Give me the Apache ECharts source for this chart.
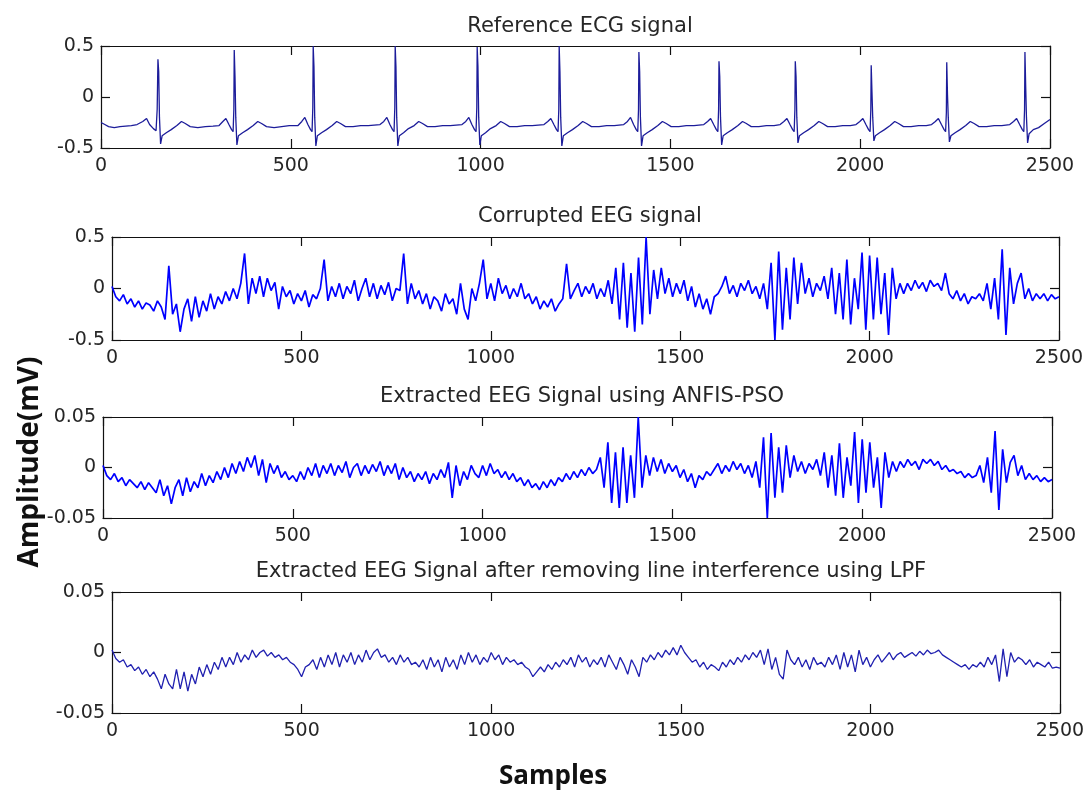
<!DOCTYPE html>
<html><head><meta charset="utf-8">
<script src="https://cdn.jsdelivr.net/npm/echarts@6/dist/echarts.min.js"></script>
<style>html,body{margin:0;padding:0;background:#fff}#c{width:1089px;height:798px}</style>
</head><body><div id="c"></div>
<script>
// ---------------- DATA ----------------
const panelTitles = [
  'Reference ECG signal',
  'Corrupted EEG signal',
  'Extracted EEG Signal using ANFIS-PSO',
  'Extracted EEG Signal after removing line interference using LPF'
];
const yLabel = 'Amplitude(mV)';
const xLabel = 'Samples';
const xRange = [0, 2500];
const xTickStep = 500;
const yRanges = [[-0.5, 0.5], [-0.5, 0.5], [-0.05, 0.05], [-0.05, 0.05]];
const yTickSteps = [0.5, 0.5, 0.05, 0.05];

// Reference ECG: [sample, mV]
const ecgSignal = [
 [0,-0.25],[10,-0.27],[20,-0.29],[35,-0.3],[50,-0.29],[65,-0.285],[80,-0.28],[95,-0.27],[110,-0.24],[120,-0.21],[128,-0.27],[138,-0.31],[145,-0.33],[148,-0.12],[150,0.37],[152,0.25],[154,-0.2],[157,-0.46],[161,-0.38],[172,-0.35],[185,-0.32],[200,-0.28],[212,-0.24],[222,-0.26],[235,-0.29],[255,-0.3],[275,-0.29],[295,-0.285],
 [311,-0.28],[321,-0.24],[329,-0.21],[337,-0.27],[344,-0.32],[348,-0.34],[350,-0.12],[351,0.46],[353,0.2],[355,-0.2],[358,-0.47],[362,-0.38],[373,-0.35],[386,-0.32],[401,-0.28],[413,-0.24],[423,-0.26],[436,-0.29],[456,-0.3],[476,-0.29],[496,-0.28],
 [519,-0.28],[529,-0.24],[537,-0.2],[545,-0.27],[552,-0.32],[556,-0.34],[558,-0.1],[559,0.5],[561,0.3],[563,-0.2],[566,-0.48],[570,-0.38],[581,-0.35],[594,-0.32],[609,-0.28],[621,-0.24],[631,-0.26],[644,-0.29],[664,-0.29],[684,-0.28],[704,-0.28],
 [735,-0.27],[745,-0.24],[753,-0.2],[761,-0.27],[768,-0.32],[772,-0.34],[774,-0.1],[775,0.5],[777,0.3],[779,-0.2],[782,-0.48],[786,-0.38],[797,-0.35],[810,-0.31],[825,-0.28],[837,-0.24],[847,-0.26],[860,-0.29],[880,-0.29],[900,-0.28],[920,-0.28],
 [951,-0.27],[961,-0.24],[969,-0.2],[977,-0.27],[984,-0.32],[988,-0.34],[990,-0.1],[991,0.49],[993,0.3],[995,-0.2],[998,-0.47],[1002,-0.38],[1013,-0.35],[1026,-0.31],[1041,-0.28],[1053,-0.24],[1063,-0.26],[1076,-0.29],[1096,-0.29],[1116,-0.28],[1136,-0.28],
 [1167,-0.27],[1177,-0.24],[1185,-0.21],[1193,-0.27],[1200,-0.32],[1204,-0.34],[1206,-0.12],[1207,0.5],[1209,0.25],[1211,-0.2],[1214,-0.48],[1218,-0.38],[1229,-0.35],[1242,-0.32],[1257,-0.28],[1269,-0.24],[1279,-0.26],[1292,-0.29],[1312,-0.29],[1332,-0.28],[1352,-0.28],
 [1377,-0.27],[1387,-0.24],[1395,-0.2],[1403,-0.27],[1410,-0.32],[1414,-0.34],[1416,-0.12],[1417,0.44],[1419,0.25],[1421,-0.2],[1424,-0.48],[1428,-0.38],[1439,-0.35],[1452,-0.32],[1467,-0.28],[1479,-0.24],[1489,-0.26],[1502,-0.29],[1522,-0.29],[1542,-0.28],[1562,-0.28],
 [1588,-0.27],[1598,-0.24],[1606,-0.21],[1614,-0.27],[1621,-0.32],[1625,-0.34],[1627,-0.12],[1628,0.35],[1630,0.2],[1632,-0.2],[1635,-0.47],[1639,-0.38],[1650,-0.35],[1663,-0.32],[1678,-0.28],[1690,-0.24],[1700,-0.26],[1713,-0.29],[1733,-0.29],[1753,-0.28],[1773,-0.28],
 [1789,-0.27],[1799,-0.24],[1807,-0.21],[1815,-0.27],[1822,-0.32],[1826,-0.34],[1828,-0.12],[1829,0.35],[1831,0.2],[1833,-0.2],[1836,-0.45],[1840,-0.38],[1851,-0.35],[1864,-0.32],[1879,-0.28],[1891,-0.24],[1901,-0.26],[1914,-0.29],[1934,-0.29],[1954,-0.28],[1974,-0.28],
 [1989,-0.27],[1999,-0.24],[2007,-0.21],[2015,-0.27],[2022,-0.32],[2026,-0.34],[2028,-0.12],[2029,0.31],[2031,0.05],[2033,-0.2],[2036,-0.43],[2040,-0.38],[2051,-0.35],[2064,-0.32],[2079,-0.28],[2091,-0.24],[2101,-0.26],[2114,-0.29],[2134,-0.29],[2154,-0.28],[2174,-0.28],
 [2188,-0.27],[2198,-0.24],[2206,-0.21],[2214,-0.27],[2221,-0.32],[2225,-0.34],[2227,-0.15],[2228,0.34],[2230,0.02],[2232,-0.2],[2235,-0.44],[2239,-0.38],[2250,-0.35],[2263,-0.32],[2278,-0.28],[2290,-0.24],[2300,-0.26],[2313,-0.29],[2333,-0.29],[2353,-0.28],[2373,-0.28],
 [2394,-0.27],[2404,-0.24],[2412,-0.21],[2420,-0.27],[2427,-0.32],[2431,-0.34],[2433,-0.12],[2434,0.44],[2436,0.1],[2438,-0.2],[2441,-0.45],[2445,-0.36],[2456,-0.32],[2470,-0.3],[2485,-0.26],[2500,-0.22]
];

// EEG signals read every 10 samples (0..2500)
const sampleStep = 10;
const corruptedEEG = [
 0.02,-0.08,-0.12,-0.06,-0.15,-0.1,-0.18,-0.12,-0.2,-0.14,
 -0.16,-0.22,-0.12,-0.18,-0.3,0.22,-0.25,-0.15,-0.42,-0.2,
 -0.1,-0.32,-0.08,-0.28,-0.12,-0.22,-0.05,-0.2,-0.08,-0.15,
 -0.03,-0.12,0.0,-0.1,0.05,0.34,-0.15,0.1,-0.05,0.12,
 -0.08,0.1,-0.02,0.06,-0.2,0.02,-0.08,-0.02,-0.15,-0.05,
 -0.12,-0.02,-0.18,-0.06,-0.1,0.0,0.28,-0.12,0.02,-0.08,
 0.05,-0.1,0.02,-0.05,0.08,-0.12,0.0,0.1,-0.08,0.05,
 -0.1,0.03,-0.06,0.06,-0.12,0.0,-0.02,0.34,-0.15,0.05,
 -0.1,-0.02,-0.15,-0.05,-0.2,-0.08,-0.12,-0.22,-0.05,-0.15,
 -0.1,-0.25,0.05,-0.2,-0.3,0.0,-0.12,0.05,0.28,-0.1,
 0.05,-0.12,0.1,-0.05,0.03,-0.1,0.0,-0.08,0.05,-0.1,
 -0.05,-0.15,-0.08,-0.2,-0.12,-0.18,-0.1,-0.22,-0.15,-0.1,
 0.24,-0.1,-0.02,0.05,-0.08,0.02,-0.05,0.05,-0.1,0.0,
 -0.08,0.08,-0.15,0.2,-0.3,0.25,-0.38,0.15,-0.42,0.3,
 -0.35,0.5,-0.25,0.18,-0.1,0.2,-0.05,0.1,-0.08,0.05,
 -0.05,0.08,-0.12,0.02,-0.18,-0.05,-0.2,-0.1,-0.25,-0.08,
 -0.05,0.02,0.12,-0.05,0.03,-0.08,0.05,-0.02,0.08,-0.05,
 0.02,-0.1,0.05,-0.2,0.25,-0.5,0.36,-0.4,0.2,-0.3,
 0.3,-0.15,0.25,-0.05,0.1,-0.08,0.05,-0.02,0.12,-0.1,
 0.2,-0.25,0.15,-0.3,0.28,-0.35,0.1,-0.2,0.35,-0.4,
 0.32,-0.3,0.3,-0.25,0.15,-0.45,0.2,-0.1,0.05,-0.05,
 0.05,-0.02,0.08,0.0,0.06,-0.03,0.08,0.02,0.05,-0.02,
 0.15,-0.05,-0.1,-0.02,-0.12,-0.05,-0.15,-0.08,-0.1,-0.05,
 -0.12,0.05,-0.2,0.1,-0.3,0.38,-0.45,0.2,-0.15,0.05,
 0.15,-0.1,0.0,-0.12,-0.05,-0.1,-0.05,-0.12,-0.06,-0.1,
 -0.08
];
const anfisEEG = [
 0.002,-0.008,-0.012,-0.006,-0.014,-0.01,-0.018,-0.012,-0.016,-0.02,
 -0.014,-0.022,-0.015,-0.02,-0.025,-0.012,-0.028,-0.018,-0.036,-0.02,
 -0.012,-0.028,-0.01,-0.024,-0.014,-0.02,-0.006,-0.018,-0.008,-0.015,
 -0.004,-0.012,0.0,-0.01,0.004,-0.006,0.006,-0.004,0.01,0.0,
 0.012,-0.008,0.008,-0.015,0.004,-0.006,0.002,-0.01,-0.004,-0.012,
 -0.008,-0.014,-0.004,-0.012,0.0,-0.008,0.004,-0.01,0.002,-0.006,
 0.004,-0.008,0.002,-0.005,0.006,-0.01,0.0,0.004,-0.008,0.002,
 -0.006,0.003,-0.004,0.006,-0.008,0.002,-0.006,0.004,-0.012,0.0,
 -0.01,-0.004,-0.014,-0.006,-0.012,-0.004,-0.016,-0.006,-0.012,-0.002,
 -0.01,0.005,-0.03,0.002,-0.018,-0.004,-0.012,0.002,-0.006,-0.01,
 0.002,-0.008,0.004,-0.006,-0.002,-0.01,-0.004,-0.012,-0.006,-0.014,
 -0.01,-0.018,-0.012,-0.02,-0.016,-0.022,-0.014,-0.02,-0.012,-0.018,
 -0.01,-0.014,-0.006,-0.012,-0.004,-0.01,-0.002,-0.008,0.0,-0.006,
 -0.002,0.01,-0.02,0.025,-0.035,0.015,-0.04,0.02,-0.035,0.012,
 -0.03,0.05,-0.02,0.012,-0.008,0.01,-0.004,0.008,-0.006,0.004,
 -0.004,0.002,-0.01,-0.002,-0.014,-0.006,-0.02,-0.008,-0.012,-0.004,
 -0.008,-0.002,0.004,-0.006,0.002,-0.004,0.006,-0.002,0.004,-0.006,
 0.002,-0.01,0.006,-0.02,0.03,-0.05,0.034,-0.03,0.02,-0.025,
 0.022,-0.01,0.012,-0.004,0.006,-0.006,0.004,-0.002,0.008,-0.008,
 0.015,-0.02,0.012,-0.028,0.024,-0.03,0.01,-0.018,0.035,-0.035,
 0.028,-0.025,0.025,-0.02,0.01,-0.04,0.015,-0.01,0.006,-0.004,
 0.006,0.0,0.008,0.002,0.006,-0.002,0.008,0.004,0.008,0.002,
 0.006,-0.002,0.002,-0.004,-0.002,-0.006,-0.004,-0.01,-0.006,-0.01,
 -0.008,0.002,-0.015,0.01,-0.025,0.036,-0.042,0.018,-0.015,0.005,
 0.012,-0.008,0.002,-0.012,-0.006,-0.012,-0.008,-0.014,-0.01,-0.014,
 -0.012
];
const lpfEEG = [
 0.002,-0.005,-0.008,-0.006,-0.012,-0.01,-0.015,-0.012,-0.018,-0.014,
 -0.02,-0.016,-0.022,-0.03,-0.018,-0.026,-0.03,-0.014,-0.03,-0.016,
 -0.032,-0.018,-0.026,-0.012,-0.02,-0.01,-0.018,-0.008,-0.014,-0.004,
 -0.012,-0.004,-0.01,0.0,-0.008,-0.002,-0.006,0.002,-0.004,0.0,
 0.002,-0.003,0.0,-0.004,-0.002,-0.006,-0.004,-0.008,-0.01,-0.014,
 -0.02,-0.012,-0.01,-0.006,-0.014,-0.004,-0.012,-0.002,-0.01,0.0,
 -0.012,-0.002,-0.008,0.0,-0.01,-0.002,-0.008,0.002,-0.006,0.0,
 0.003,-0.004,-0.002,-0.008,-0.004,-0.01,-0.002,-0.008,-0.004,-0.01,
 -0.008,-0.012,-0.006,-0.014,-0.004,-0.012,-0.006,-0.016,-0.004,-0.012,
 -0.006,-0.014,-0.002,-0.01,0.0,-0.008,-0.002,-0.01,-0.004,-0.008,
 0.0,-0.006,-0.002,-0.01,-0.004,-0.008,-0.006,-0.01,-0.008,-0.012,
 -0.014,-0.02,-0.016,-0.012,-0.016,-0.01,-0.014,-0.008,-0.012,-0.006,
 -0.01,-0.004,-0.012,-0.002,-0.008,-0.004,-0.012,-0.006,-0.01,-0.004,
 -0.012,-0.002,-0.008,-0.014,-0.004,-0.01,-0.018,-0.006,-0.012,-0.02,
 -0.004,-0.008,-0.002,-0.006,0.0,-0.004,0.002,-0.002,0.004,-0.002,
 0.006,0.0,-0.004,-0.008,-0.006,-0.012,-0.008,-0.014,-0.01,-0.012,
 -0.015,-0.008,-0.012,-0.006,-0.01,-0.004,-0.008,-0.002,-0.006,0.0,
 -0.004,0.002,-0.01,0.003,-0.014,-0.004,-0.018,-0.022,0.002,-0.006,
 -0.01,-0.004,-0.012,-0.006,-0.014,-0.004,-0.01,-0.008,-0.012,-0.004,
 -0.01,-0.002,-0.014,0.0,-0.012,-0.002,-0.016,0.002,-0.01,-0.004,
 -0.012,-0.006,-0.002,-0.008,-0.004,0.0,-0.006,-0.002,0.0,-0.004,
 -0.002,0.0,-0.003,0.001,-0.002,0.002,-0.001,0.0,0.002,-0.002,
 -0.004,-0.006,-0.008,-0.01,-0.012,-0.01,-0.014,-0.01,-0.012,-0.008,
 -0.012,-0.004,-0.01,-0.002,-0.024,0.003,-0.02,0.0,-0.008,-0.004,
 -0.006,-0.01,-0.006,-0.012,-0.008,-0.01,-0.012,-0.008,-0.013,-0.012,
 -0.013
];

// ---------------- CHART ----------------
const withSamples = arr => arr.map((v, i) => [i * sampleStep, v]);
const seriesData = [ecgSignal, withSamples(corruptedEEG), withSamples(anfisEEG), withSamples(lpfEEG)];
const lineColors = ['#1c1c9a', '#0000ff', '#0000ff', '#2020b0'];
const lineWidths = [1.3, 1.7, 1.7, 1.3];

const grids = [
  {left: 101, top: 46, width: 949, height: 102},
  {left: 112, top: 237, width: 947, height: 103},
  {left: 103, top: 417, width: 949, height: 101},
  {left: 112, top: 592, width: 948, height: 121}
];
const titleCenters = [[575, 11], [585, 201], [577, 381], [586, 556]];

const labelFont = {fontFamily: 'DejaVu Sans', fontSize: 19, color: '#262626', formatter: v => String(v)};
const axisLineStyle = {color: '#111', width: 1.2};
const xAxes = [], yAxes = [], series = [], titles = [];
grids.forEach((g, i) => {
  const [ymin, ymax] = yRanges[i];
  xAxes.push({type: 'value', gridIndex: i, position: 'bottom', min: xRange[0], max: xRange[1], interval: xTickStep,
    axisLine: {show: true, onZero: false, lineStyle: axisLineStyle},
    axisTick: {show: true, inside: true, length: 9, lineStyle: axisLineStyle},
    axisLabel: Object.assign({margin: 9}, labelFont), splitLine: {show: false}});
  xAxes.push({type: 'value', gridIndex: i, position: 'top', min: xRange[0], max: xRange[1], interval: xTickStep,
    axisLine: {show: true, onZero: false, lineStyle: axisLineStyle},
    axisTick: {show: true, inside: true, length: 9, lineStyle: axisLineStyle},
    axisLabel: {show: false}, splitLine: {show: false}});
  yAxes.push({type: 'value', gridIndex: i, position: 'left', min: ymin, max: ymax, interval: yTickSteps[i],
    axisLine: {show: true, onZero: false, lineStyle: axisLineStyle},
    axisTick: {show: true, inside: true, length: 9, lineStyle: axisLineStyle},
    axisLabel: Object.assign({margin: 7}, labelFont), splitLine: {show: false}});
  yAxes.push({type: 'value', gridIndex: i, position: 'right', min: ymin, max: ymax, interval: yTickSteps[i],
    axisLine: {show: true, onZero: false, lineStyle: axisLineStyle},
    axisTick: {show: true, inside: true, length: 9, lineStyle: axisLineStyle},
    axisLabel: {show: false}, splitLine: {show: false}});
  series.push({type: 'line', xAxisIndex: 2 * i, yAxisIndex: 2 * i, data: seriesData[i],
    showSymbol: false, symbol: 'none', sampling: null, animation: false, clip: true,
    lineStyle: {color: lineColors[i], width: lineWidths[i]}});
  titles.push({text: panelTitles[i], left: titleCenters[i][0], top: titleCenters[i][1], textAlign: 'center',
    textStyle: {fontFamily: 'DejaVu Sans', fontSize: 21, fontWeight: 'normal', color: '#262626'}});
});

const chart = echarts.init(document.getElementById('c'), null, {renderer: 'canvas'});
chart.setOption({
  backgroundColor: '#ffffff',
  animation: false,
  title: titles,
  grid: grids,
  xAxis: xAxes,
  yAxis: yAxes,
  series: series,
  graphic: [
    {type: 'text', x: 30, y: 462, rotation: Math.PI / 2, style: {text: yLabel, font: 'bold 28px "Open Sans"', fill: '#111', textAlign: 'center', textVerticalAlign: 'middle'}},
    {type: 'text', x: 553, y: 777, style: {text: xLabel, font: 'bold 26px "Open Sans"', fill: '#111', textAlign: 'center', textVerticalAlign: 'middle'}}
  ]
});
</script></body></html>
